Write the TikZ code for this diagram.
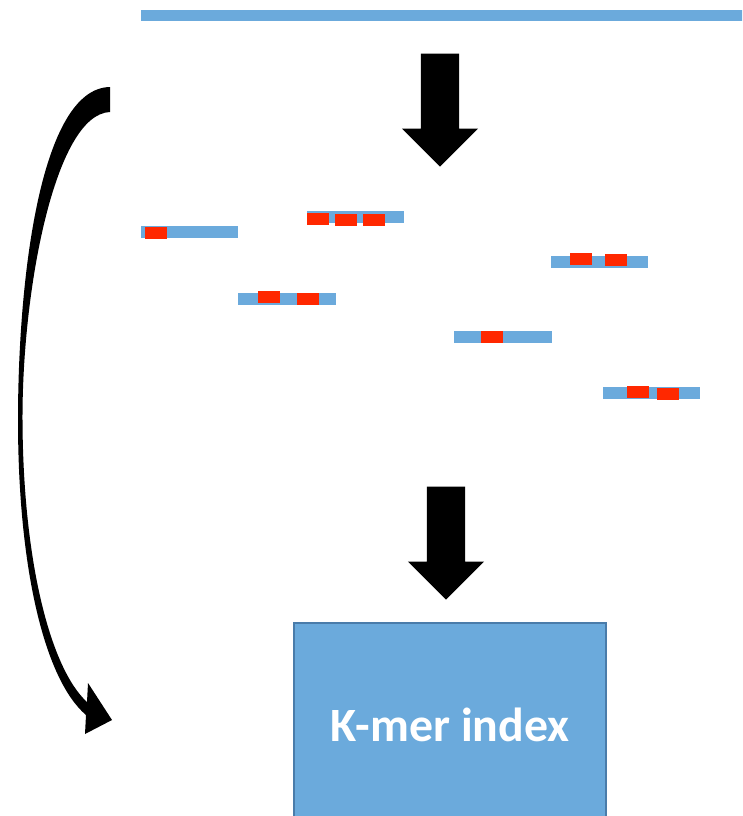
\documentclass[tikz,border=0pt]{standalone}
\usepackage{fontspec}
\newfontfamily\indexfont{Carlito}
\usetikzlibrary{shapes.arrows}

\definecolor{readblue}{RGB}{107,170,220}
\definecolor{kmerred}{RGB}{255,40,0}
\definecolor{boxline}{RGB}{74,124,170}

\tikzset{
    read/.style={draw=readblue, line width=12pt},
    kmer/.style={fill=kmerred},
    blockarrow/.style={single arrow, rotate=-90, fill=black, inner xsep=0pt,
        inner ysep=19pt, minimum height=113pt, single arrow head extend=19pt,
        anchor=tip},
}

\begin{document}
\begin{tikzpicture}[x=1pt, y=-1pt]
            \useasboundingbox (0,0) rectangle (742,816);
            \clip (0,0) rectangle (742,816);
            % genome
            \draw [read, line width=11pt] (141,15.5) -- (750,15.5);
            \node [blockarrow] (split) at (440,167) {};
            % reads
            \foreach \xa/\xb/\yy in {141/238/232, 307/404/217, 238/336/299,
                551/648/262, 454/552/336.5, 603/700/393}
                \draw [read] (\xa,\yy) -- (\xb,\yy);
            % k-mers
            \foreach \xa/\ya in {145/227, 307/213, 335/214, 363/214, 258/291,
                297/292.5, 570/253, 605/254, 481/330.5, 627/386, 657/388}
                \fill [kmer] (\xa,\ya) rectangle ++(21.5,12);
            \node [blockarrow] (build) at (446,600) {};
            \node [fill=readblue, draw=boxline, line width=2pt, minimum
                width=312pt, minimum height=204pt, text=white,
                font=\indexfont\bfseries\fontsize{47.8}{52}\selectfont]
                (index) at (450,725) {K-mer index};
            % reuse
            \fill (110,87) .. controls (40,88) and (18,280) .. (18,420)
                .. controls (18,570) and (45,680) .. (86,715)
                -- (85,734) -- (112,720) -- (88,683) -- (87,702)
                .. controls (50,668) and (23,560) .. (22.5,420)
                .. controls (22,290) and (55,114) .. (110,112) -- cycle;
        \end{tikzpicture}
\end{document}
